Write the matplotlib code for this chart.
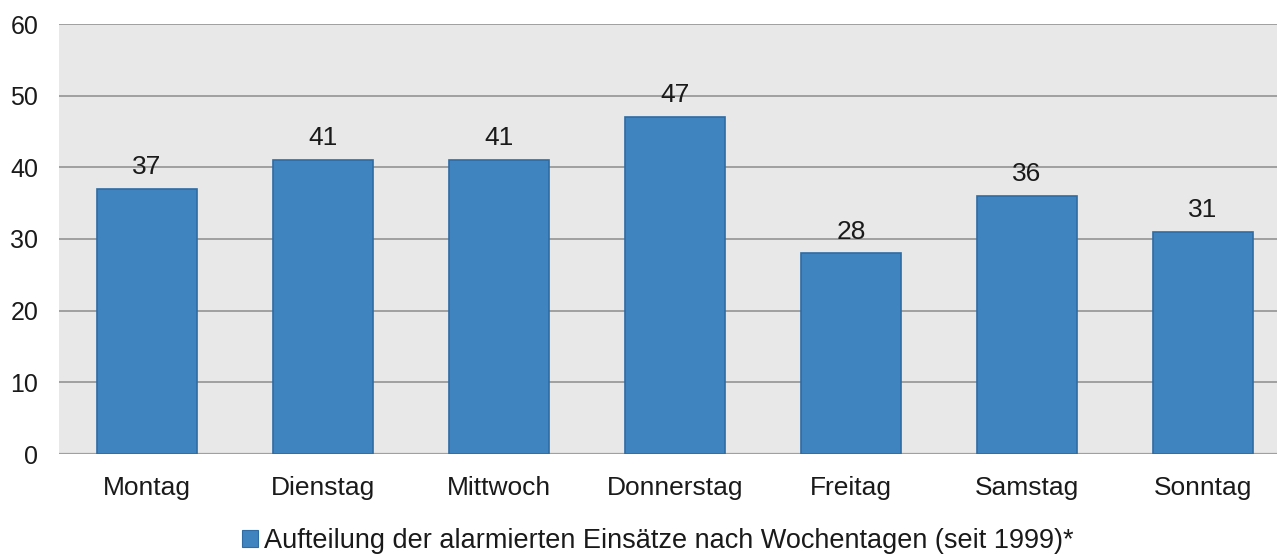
import matplotlib.pyplot as plt
from matplotlib.patches import Patch

days = ["Montag", "Dienstag", "Mittwoch", "Donnerstag", "Freitag", "Samstag", "Sonntag"]
counts = [37, 41, 41, 47, 28, 36, 31]
yticks = [0, 10, 20, 30, 40, 50, 60]
legend_label = "Aufteilung der alarmierten Einsätze nach Wochentagen (seit 1999)*"

plt.rcParams["font.family"] = ["Liberation Sans", "DejaVu Sans"]

bar_color = "#3f83bf"
edge_color = "#2e6ca3"

fig = plt.figure(figsize=(12.77, 5.54), dpi=100)
# plot area runs a little past the right edge, like in the original screenshot
ax = fig.add_axes([59 / 1277, 1 - 454 / 554, 1232 / 1277, 430 / 554])
ax.set_facecolor("#e8e8e8")

x = list(range(len(days)))
bars = ax.bar(x, counts, width=0.57, color=bar_color, edgecolor=edge_color,
              linewidth=1.2, zorder=3)

for xi, v in zip(x, counts):
    ax.annotate(str(v), (xi, v), xytext=(0, 7), textcoords="offset points",
                ha="center", va="bottom", fontsize=19, color="#1a1a1a", zorder=4)

ax.set_xlim(-0.5, len(days) - 0.5)
ax.set_ylim(0, 60)
ax.set_yticks(yticks)
ax.set_xticks(x)
ax.set_xticklabels(days)
ax.yaxis.grid(True, color="#8c8c8c", linewidth=1.1, zorder=1)
ax.set_axisbelow(True)
for s in ax.spines.values():
    s.set_visible(False)
ax.axhline(0, color="#a0a0a0", linewidth=1.6, zorder=2)

ax.tick_params(axis="y", length=0, pad=15, labelsize=18, labelcolor="#1a1a1a")
ax.tick_params(axis="x", length=0, pad=16, labelsize=19, labelcolor="#1a1a1a")

handle = Patch(facecolor=bar_color, edgecolor=edge_color, linewidth=0.8)
fig.legend([handle], [legend_label], loc="center", bbox_to_anchor=(0.515, 1 - 541 / 554),
           frameon=False, fontsize=19.5, handlelength=0.6, handleheight=0.6,
           handletextpad=0.2, borderpad=0, labelcolor="#1a1a1a")

fig.savefig("out.png", dpi=100)
